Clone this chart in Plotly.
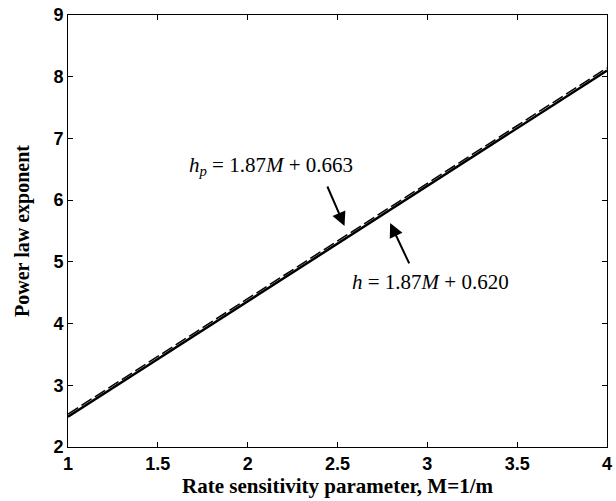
import plotly.graph_objects as go

M = [1.0, 4.0]
h = [2.490, 8.100]
hp = [2.533, 8.143]

x_ticks = [1, 1.5, 2, 2.5, 3, 3.5, 4]
x_tick_labels = ["1", "1.5", "2", "2.5", "3", "3.5", "4"]
y_ticks = [2, 3, 4, 5, 6, 7, 8, 9]
y_tick_labels = ["2", "3", "4", "5", "6", "7", "8", "9"]

fig = go.Figure()
fig.add_trace(go.Scatter(x=M, y=hp, mode="lines",
                         line=dict(color="black", width=1.5, dash="12px,4px"),
                         showlegend=False))
fig.add_trace(go.Scatter(x=M, y=h, mode="lines",
                         line=dict(color="black", width=2.5),
                         showlegend=False))

serif = "Liberation Serif, Times New Roman, serif"
fig.add_annotation(x=2.13, y=6.56, xref="x", yref="y", showarrow=False,
                   text="<i>h</i><sub><i>p</i></sub> = 1.87<i>M</i> + 0.663",
                   font=dict(family=serif, size=21, color="black"))
fig.add_annotation(x=3.02, y=4.67, xref="x", yref="y", showarrow=False,
                   text="<i>h</i> = 1.87<i>M</i> + 0.620",
                   font=dict(family=serif, size=21, color="black"))
fig.add_annotation(x=2.539, y=5.58, ax=2.44, ay=6.245, xref="x", yref="y",
                   axref="x", ayref="y", text="", showarrow=True,
                   arrowhead=2, arrowsize=1.4, arrowwidth=2, arrowcolor="black")
fig.add_annotation(x=2.793, y=5.63, ax=2.903, ay=4.95, xref="x", yref="y",
                   axref="x", ayref="y", text="", showarrow=True,
                   arrowhead=2, arrowsize=1.4, arrowwidth=2, arrowcolor="black")

axis_common = dict(showgrid=False, zeroline=False, showline=True, linecolor="black",
                   linewidth=1, mirror="ticks", ticks="inside", ticklen=5,
                   tickcolor="black", ticklabeloverflow="allow",
                   tickfont=dict(family="Liberation Sans, Arial, sans-serif", size=18,
                                 color="black"))
fig.update_xaxes(range=[1, 4], tickvals=x_ticks,
                 ticktext=["<b>" + t + "</b>" for t in x_tick_labels],
                 title=dict(text="<b>Rate sensitivity parameter, M=1/m</b>",
                            font=dict(family=serif, size=21, color="black"),
                            standoff=5),
                 **axis_common)
fig.update_yaxes(range=[2, 9], tickvals=y_ticks,
                 ticktext=["<b>" + t + "</b>" for t in y_tick_labels],
                 title=dict(text="<b>Power law exponent</b>",
                            font=dict(family=serif, size=20, color="black"),
                            standoff=18),
                 **axis_common)
fig.update_layout(width=616, height=501, margin=dict(l=68, r=4, t=15, b=54),
                  plot_bgcolor="white", paper_bgcolor="white")
fig.write_html("out.html")
